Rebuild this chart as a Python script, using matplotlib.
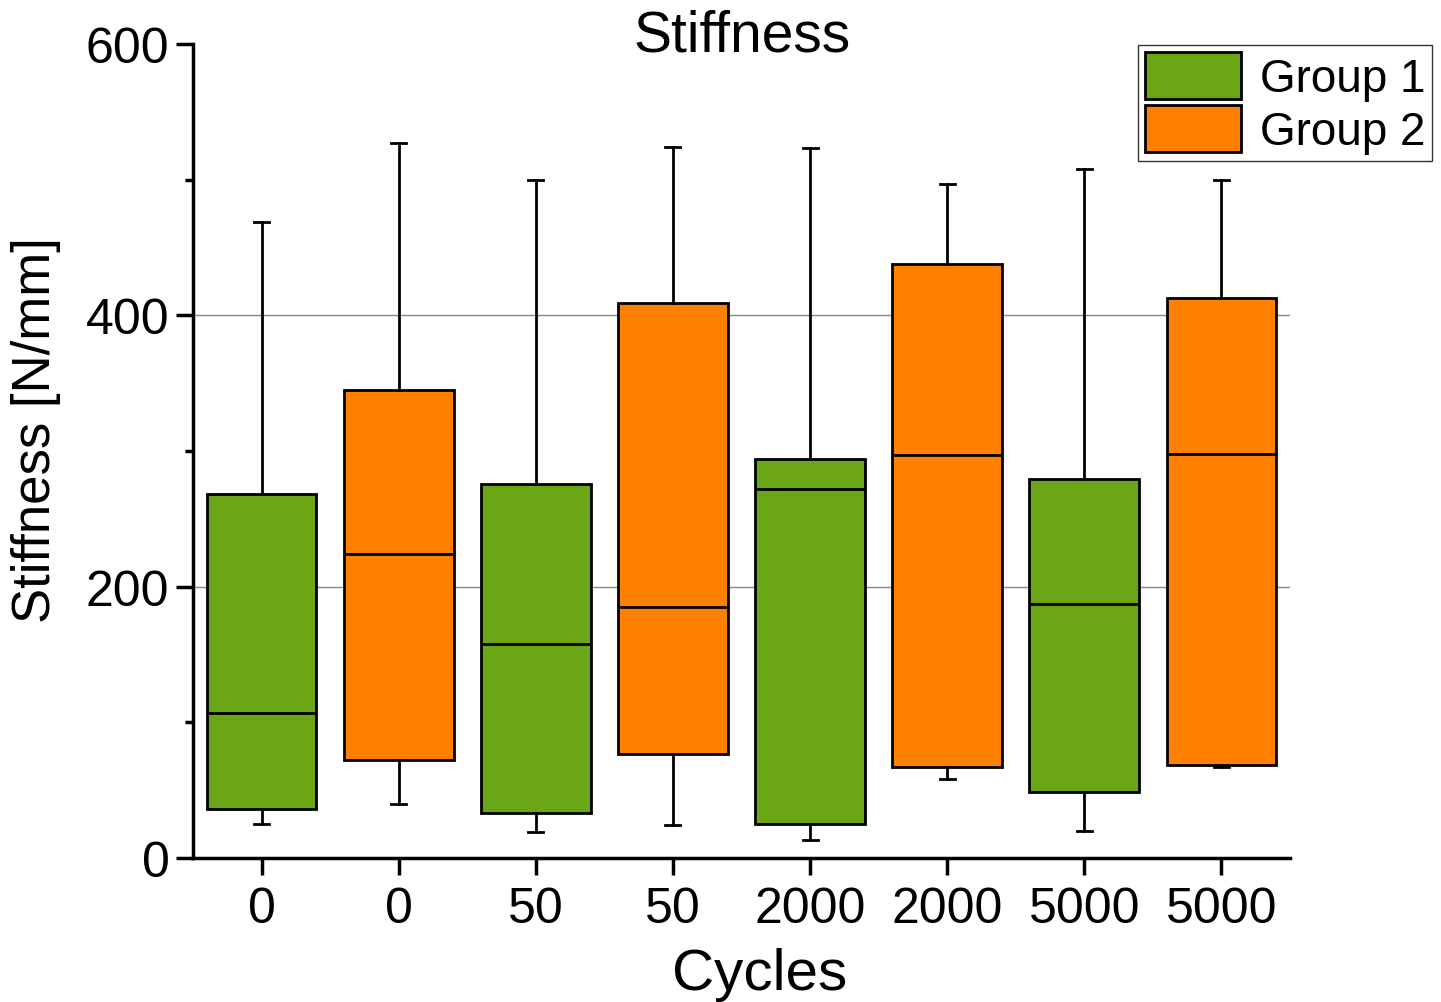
import matplotlib
matplotlib.use("Agg")
import matplotlib.pyplot as plt
from matplotlib.patches import Patch

plt.rcParams['font.family'] = ['Liberation Sans', 'DejaVu Sans']

labels = ["0", "0", "50", "50", "2000", "2000", "5000", "5000"]
groups = [1, 2, 1, 2, 1, 2, 1, 2]
whislo = [25, 40, 19, 24, 13, 58, 20, 67]
q1 = [36, 72, 33, 77, 25, 67, 49, 68.5]
med = [107, 224, 158, 185, 272, 297, 187, 298]
q3 = [268, 345, 276, 409, 294, 438, 279, 413]
whishi = [469, 527, 500, 524, 523, 497, 508, 500]

colors = {1: '#6ba616', 2: '#ff8000'}

fig = plt.figure(figsize=(14.41, 10.03), dpi=100)
ax = fig.add_axes([193/1441, 1-859/1003, (1290-193)/1441, (859-45)/1003])

stats = []
for i in range(len(labels)):
    stats.append(dict(label=labels[i], whislo=whislo[i], q1=q1[i], med=med[i],
                      q3=q3[i], whishi=whishi[i], fliers=[]))

positions = list(range(1, len(labels) + 1))
res = ax.bxp(stats, positions=positions, widths=0.8, patch_artist=True,
             showfliers=False, capwidths=0.11,
             boxprops=dict(linewidth=2, edgecolor='black'),
             medianprops=dict(color='black', linewidth=2),
             whiskerprops=dict(color='black', linewidth=2),
             capprops=dict(color='black', linewidth=2))
for box, g in zip(res['boxes'], groups):
    box.set_facecolor(colors[g])

ax.set_xlim(0.5, 8.5)
ax.set_ylim(0, 600)
ax.set_yticks([0, 200, 400, 600])
ax.set_yticks([100, 300, 500], minor=True)
ax.set_xticks(positions)
ax.set_xticklabels(labels)

ax.spines['top'].set_visible(False)
ax.spines['right'].set_visible(False)
ax.spines['left'].set_linewidth(2.5)
ax.spines['bottom'].set_linewidth(2.5)
ax.tick_params(axis='both', which='major', direction='out', length=12, width=2.5,
               labelsize=36, pad=5)
ax.tick_params(axis='y', which='minor', direction='out', length=6, width=2.5)
ax.tick_params(axis='x', which='major', pad=8)

ax.set_axisbelow(True)
ax.yaxis.grid(True, which='major', color='#888888', linewidth=1)
gl = ax.yaxis.get_gridlines()
for line, v in zip(gl, [0, 200, 400, 600]):
    if v in (0, 600):
        line.set_visible(False)

fig.text(742/1441, 1-36/1003, "Stiffness", ha='center', va='center', fontsize=41)
fig.text(760/1441, 1-975/1003, "Cycles", ha='center', va='center', fontsize=42)
fig.text(36/1441, 1-430/1003, "Stiffness [N/mm]", ha='center', va='center',
         fontsize=38, rotation=90)

handles = [Patch(facecolor=colors[1], edgecolor='black', linewidth=2, label='Group 1'),
           Patch(facecolor=colors[2], edgecolor='black', linewidth=2, label='Group 2')]
leg = fig.legend(handles=handles, loc='upper right',
                 bbox_to_anchor=(1432/1441, 1-46/1003), fontsize=33,
                 frameon=True, fancybox=False, edgecolor='black',
                 handlelength=2.1, handleheight=1.2, handletextpad=0.4,
                 borderpad=0.15, labelspacing=0.1, borderaxespad=0)
leg.get_frame().set_linewidth(1)

fig.savefig("out.png", dpi=100)
